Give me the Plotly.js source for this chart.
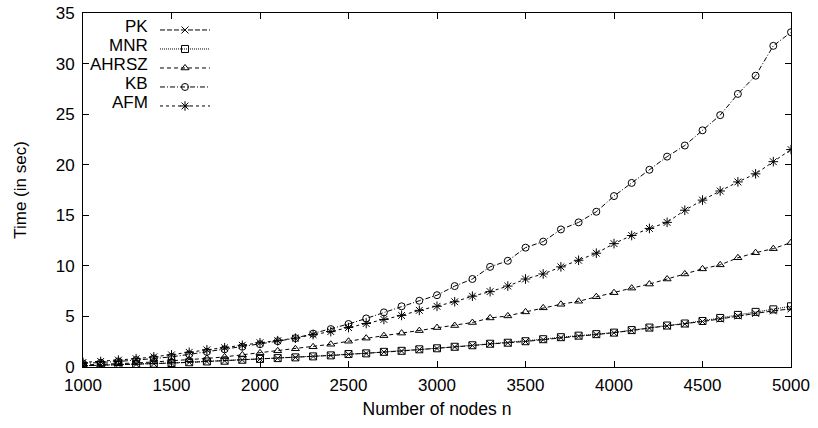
<!DOCTYPE html>
<html>
<head>
<meta charset="utf-8">
<script src="https://cdn.plot.ly/plotly-3.0.1.min.js"></script>
<style>html,body{margin:0;padding:0;background:#fff;}#chart{width:818px;height:428px;}</style>
</head>
<body>
<div id="chart"></div>
<script>
var nodes = [1000,1100,1200,1300,1400,1500,1600,1700,1800,1900,2000,2100,2200,2300,2400,2500,2600,2700,2800,2900,3000,3100,3200,3300,3400,3500,3600,3700,3800,3900,4000,4100,4200,4300,4400,4500,4600,4700,4800,4900,5000];
var seriesNames = ["PK","MNR","AHRSZ","KB","AFM"];
var pk = [0.12,0.16,0.21,0.26,0.32,0.39,0.46,0.54,0.61,0.70,0.78,0.86,0.94,1.04,1.14,1.25,1.34,1.48,1.58,1.72,1.83,1.98,2.12,2.27,2.38,2.52,2.70,2.90,3.05,3.20,3.38,3.60,3.85,4.05,4.25,4.50,4.75,5.05,5.30,5.55,5.75];
var mnr = [0.13,0.17,0.22,0.27,0.33,0.40,0.47,0.55,0.62,0.72,0.80,0.88,0.95,1.05,1.15,1.28,1.35,1.50,1.60,1.75,1.85,2.00,2.15,2.30,2.40,2.55,2.75,2.95,3.10,3.25,3.40,3.65,3.90,4.10,4.30,4.55,4.85,5.15,5.45,5.70,6.00];
var ahrsz = [0.20,0.25,0.32,0.40,0.50,0.60,0.72,0.85,1.00,1.20,1.40,1.60,1.80,2.00,2.25,2.55,2.85,3.10,3.35,3.60,3.90,4.10,4.40,4.85,5.05,5.45,5.85,6.20,6.50,6.95,7.35,7.80,8.20,8.70,9.20,9.70,10.10,10.80,11.30,11.70,12.30];
var kb = [0.35,0.42,0.55,0.68,0.85,1.00,1.25,1.50,1.75,2.00,2.25,2.55,2.85,3.30,3.75,4.25,4.80,5.40,6.00,6.55,7.10,8.00,8.70,9.90,10.50,11.80,12.40,13.60,14.30,15.35,16.90,18.20,19.50,20.80,21.90,23.40,24.90,27.00,28.80,31.75,33.10];
var afm = [0.45,0.55,0.68,0.82,1.00,1.20,1.45,1.70,1.90,2.15,2.40,2.60,2.85,3.20,3.50,3.90,4.30,4.70,5.10,5.60,6.00,6.45,7.00,7.45,8.00,8.70,9.20,9.90,10.55,11.25,12.20,13.00,13.70,14.30,15.50,16.50,17.40,18.30,19.10,20.30,21.50];
var xTicks = [1000,1500,2000,2500,3000,3500,4000,4500,5000];
var yTicks = [0,5,10,15,20,25,30,35];

var values = [pk, mnr, ahrsz, kb, afm];
var symbols = ["x-thin-open","square-open","triangle-up-open","circle-open","asterisk-open"];
var dashes = ["5px,2px","1px,1px","4px,3px","5px,2px,1px,2px","3px,3px"];
var sizes = [7,7,7,7,8];

var traces = values.map(function(v,i){
  return {
    x: nodes, y: v, type: "scatter", mode: "lines+markers",
    name: " ",
    line: {color: "#000", width: 1, dash: dashes[i]},
    marker: {symbol: symbols[i], size: sizes[i], color: "#000", line: {color: "#000", width: 1}}
  };
});

var font = {family: "Liberation Sans, Arial, sans-serif", size: 17, color: "#000"};
var rowsY = [0.9619,0.9082,0.8545,0.8008,0.7472];
var annotations = seriesNames.map(function(s,i){
  return {xref:"paper", yref:"paper", x:0.0946, y:rowsY[i], xanchor:"right", yanchor:"middle",
          text:s, showarrow:false, font:font};
});

var layout = {
  width: 818, height: 428,
  margin: {l: 83, r: 27, t: 13, b: 61},
  paper_bgcolor: "#fff", plot_bgcolor: "#fff",
  font: font,
  showlegend: true,
  legend: {x: 0.1017, y: 0.993, xanchor: "left", yanchor: "top", bgcolor: "rgba(0,0,0,0)",
           font: {family: font.family, size: 12}, itemwidth: 50, tracegroupgap: 0},
  annotations: annotations,
  xaxis: {
    range: [1000, 5000], tickvals: xTicks, ticktext: xTicks.map(String),
    showgrid: false, zeroline: false, showline: true, linecolor: "#000", linewidth: 1,
    mirror: "ticks", ticks: "inside", ticklen: 6, tickcolor: "#000",
    tickfont: font, ticklabelstandoff: 3,
    title: {text: "Number of nodes n", font: {family: font.family, size: 17.5, color: "#000"}, standoff: 8}
  },
  yaxis: {
    range: [0, 35], tickvals: yTicks, ticktext: yTicks.map(String),
    showgrid: false, zeroline: false, showline: true, linecolor: "#000", linewidth: 1,
    mirror: "ticks", ticks: "inside", ticklen: 6, tickcolor: "#000",
    tickfont: font, ticklabelstandoff: 4,
    title: {text: "Time (in sec)", font: font, standoff: 24}
  }
};

Plotly.newPlot("chart", traces, layout, {staticPlot: true, displayModeBar: false});
</script>
</body>
</html>
